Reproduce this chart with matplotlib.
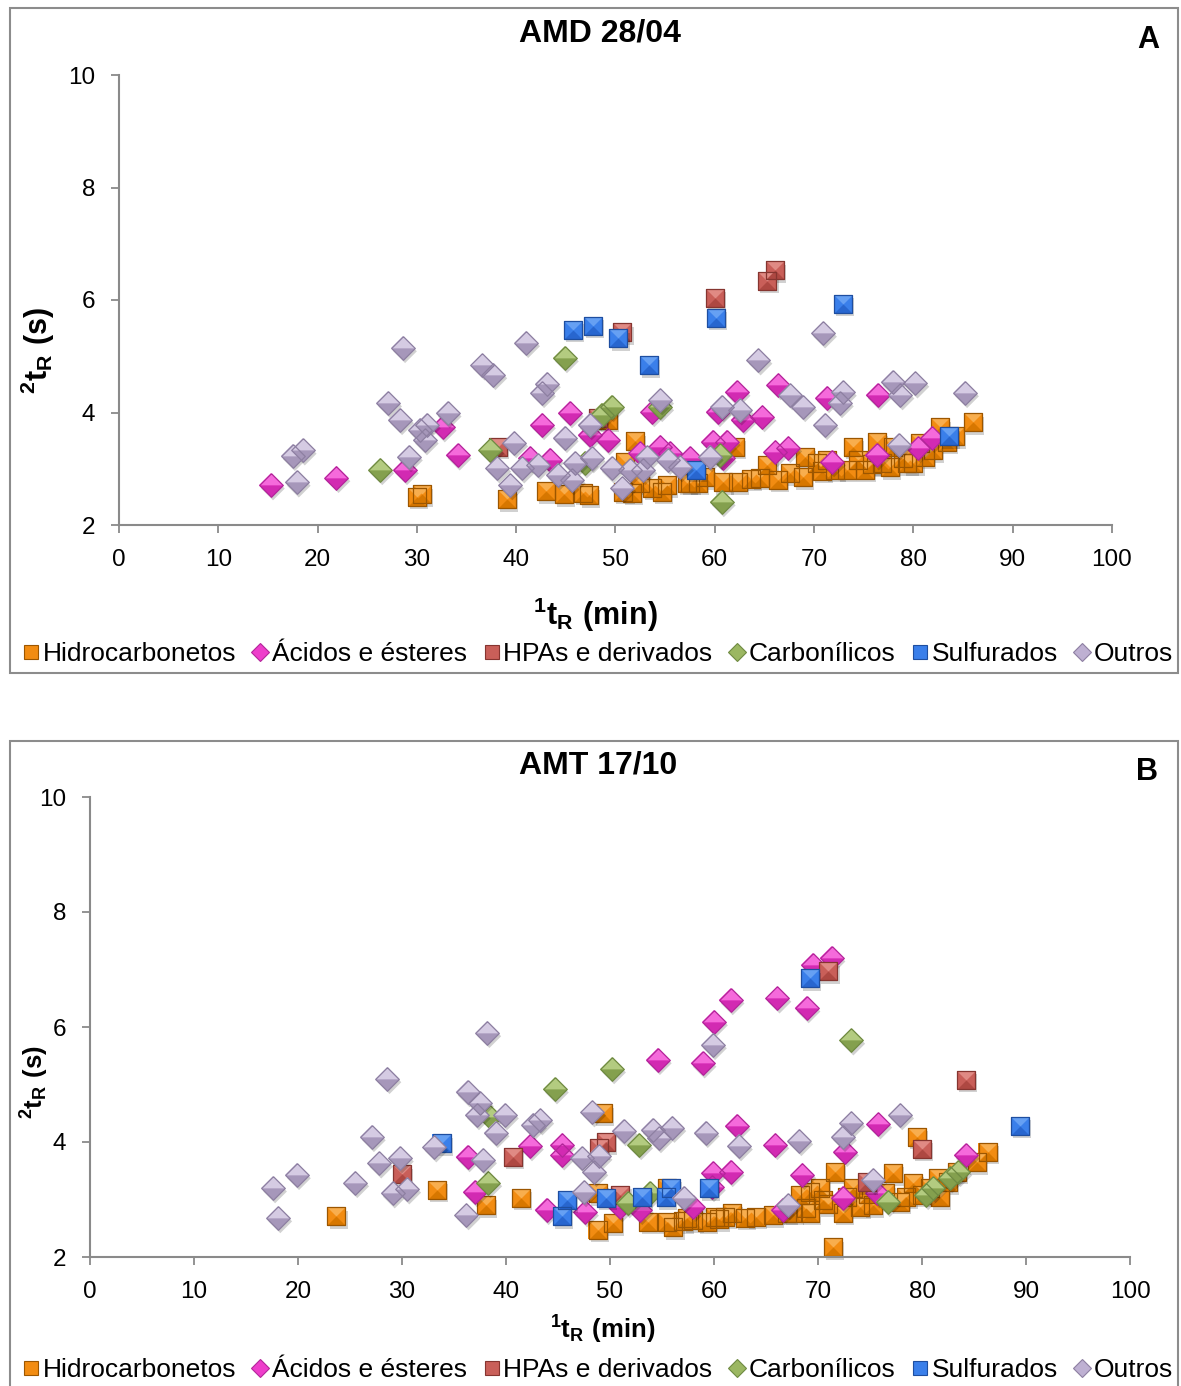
import matplotlib
matplotlib.use("Agg")
import matplotlib.pyplot as plt
import matplotlib.patheffects as pe
from matplotlib.lines import Line2D
from matplotlib.patches import Rectangle

plt.rcParams['font.family'] = ['Liberation Sans', 'DejaVu Sans']
plt.rcParams['mathtext.fontset'] = 'custom'
plt.rcParams['mathtext.rm'] = 'Liberation Sans'
plt.rcParams['mathtext.bf'] = 'Liberation Sans:bold'

W, H = 1181, 1386

# ---------------- dados: painel A (AMD 28/04) ----------------
hidro_a_x = [30.0, 30.5, 39.1, 43.0, 44.8, 46.7, 47.3, 49.2, 50.8, 51.0, 51.7, 52.0, 52.5, 53.7, 54.7,
             55.2, 57.2, 57.5, 58.3, 59.0, 60.8, 62.0, 62.3, 64.6, 65.3, 66.4, 67.6, 68.9, 69.1, 70.3,
             71.3, 72.1, 73.3, 73.9, 74.4, 75.1, 76.3, 76.8, 77.6, 77.9, 79.4, 80.0, 80.7, 81.2, 82.0,
             82.7, 83.4, 86.0, 63.6, 70.8, 75.8, 79.0, 84.2]
hidro_a_y = [2.50, 2.55, 2.46, 2.60, 2.55, 2.57, 2.53, 3.87, 2.59, 3.12, 2.57, 3.49, 2.75, 2.66, 2.59,
             2.71, 2.75, 2.75, 2.75, 2.85, 2.76, 3.39, 2.76, 2.84, 3.07, 2.80, 2.92, 2.85, 3.21, 3.10,
             3.16, 2.98, 2.98, 3.39, 3.16, 2.98, 3.48, 3.10, 3.03, 3.39, 3.10, 3.10, 3.46, 3.21, 3.33,
             3.74, 3.48, 3.83, 2.82, 2.96, 3.08, 3.20, 3.58]

acidos_a_x = [15.3, 21.9, 28.8, 32.6, 34.1, 41.4, 42.6, 43.4, 45.4, 47.4, 49.2, 52.5, 53.7, 54.5, 55.5,
              57.5, 59.8, 60.3, 60.8, 61.2, 62.2, 62.8, 64.8, 66.1, 66.4, 67.4, 71.3, 71.8, 76.3, 76.4,
              80.5, 81.9]
acidos_a_y = [2.71, 2.84, 2.98, 3.74, 3.24, 3.19, 3.78, 3.16, 3.99, 3.60, 3.51, 3.28, 4.01, 3.39, 3.28,
              3.19, 3.48, 4.01, 3.19, 3.48, 4.36, 3.87, 3.92, 3.30, 4.49, 3.37, 4.26, 3.12, 3.24, 4.31,
              3.37, 3.55]

hpas_a_x = [38.2, 48.2, 50.7, 60.0, 65.3, 66.1]
hpas_a_y = [3.39, 3.90, 5.43, 6.04, 6.34, 6.53]

carbon_a_x = [26.3, 37.4, 44.9, 46.9, 48.6, 49.6, 54.5, 60.5, 60.7]
carbon_a_y = [2.98, 3.33, 4.97, 3.10, 3.96, 4.10, 4.10, 3.24, 2.41]

sulf_a_x = [45.7, 47.7, 50.3, 53.4, 58.1, 60.1, 72.9, 83.6]
sulf_a_y = [5.47, 5.54, 5.32, 4.84, 2.98, 5.68, 5.93, 3.58]

outros_a_x = [17.9, 17.5, 18.5, 27.1, 28.3, 28.6, 29.2, 30.3, 31.0, 30.8, 33.1, 36.6, 37.7, 41.0, 42.6,
              43.1, 39.8, 38.1, 39.4, 40.6, 42.2, 44.2, 44.9, 45.9, 45.6, 47.4, 47.6, 49.6, 50.7, 51.5,
              52.8, 53.2, 54.5, 55.3, 56.5, 59.5, 60.7, 62.5, 64.4, 67.6, 68.9, 70.9, 72.9, 72.6, 71.1,
              77.9, 78.7, 80.2, 85.2, 78.5]
outros_a_y = [2.76, 3.23, 3.33, 4.17, 3.87, 5.15, 3.21, 3.69, 3.78, 3.51, 3.99, 4.84, 4.67, 5.24, 4.35,
              4.51, 3.46, 3.01, 2.71, 3.01, 3.07, 2.89, 3.55, 3.10, 2.80, 3.78, 3.19, 3.01, 2.66, 2.98,
              2.98, 3.21, 4.22, 3.16, 3.03, 3.21, 4.10, 4.04, 4.93, 4.31, 4.10, 5.41, 4.36, 4.17, 3.78,
              4.54, 4.31, 4.52, 4.35, 3.42]

# ---------------- dados: painel B (AMT 17/10) ----------------
hidro_b_x = [23.7, 33.4, 38.1, 41.4, 49.3, 48.8, 48.8, 50.3, 53.7, 55.5, 56.1, 55.5, 57.4, 58.0, 59.3,
             60.1, 61.1, 61.7, 63.0, 65.7, 67.0, 67.6, 68.3, 69.2, 69.2, 70.2, 70.5, 71.6, 72.4, 73.4,
             74.0, 75.3, 76.4, 77.2, 77.9, 79.1, 79.5, 80.0, 81.5, 81.7, 83.4, 85.3, 86.3, 71.4,
             64.0, 68.8, 71.0, 72.8, 74.8, 78.5, 80.8, 82.5, 60.5, 57.0]
hidro_b_y = [2.71, 3.17, 2.90, 3.03, 4.50, 3.11, 2.47, 2.59, 2.61, 2.61, 2.52, 3.20, 2.68, 2.64, 2.61,
             2.70, 2.70, 2.77, 2.68, 2.73, 2.77, 2.77, 3.08, 3.13, 2.77, 3.20, 2.99, 3.48, 2.77, 3.20,
             2.87, 2.90, 3.11, 3.46, 2.96, 3.29, 4.09, 3.08, 3.37, 3.04, 3.48, 3.65, 3.83, 2.17,
             2.70, 2.85, 2.92, 3.05, 3.10, 3.05, 3.20, 3.30, 2.66, 2.62]

acidos_b_x = [36.3, 37.0, 42.3, 45.4, 45.4, 43.9, 47.6, 51.0, 52.9, 54.6, 58.9, 60.0, 61.6, 66.1, 68.9,
              69.5, 71.3, 62.2, 65.9, 59.9, 61.6, 59.8, 58.0, 68.5, 72.4, 72.6, 75.8, 75.7, 66.6, 84.2]
acidos_b_y = [3.74, 3.13, 3.93, 3.95, 3.77, 2.82, 2.78, 2.87, 2.82, 5.43, 5.37, 6.09, 6.47, 6.50, 6.33,
              7.08, 7.20, 4.28, 3.95, 3.46, 3.48, 3.22, 2.87, 3.43, 3.03, 3.83, 4.31, 3.11, 2.82, 3.77]

hpas_b_x = [30.0, 40.7, 48.9, 49.6, 51.0, 71.0, 74.7, 80.0, 84.2]
hpas_b_y = [3.44, 3.74, 3.90, 4.00, 3.08, 6.97, 3.30, 3.88, 5.08]

carbon_b_x = [38.3, 38.5, 44.7, 50.2, 51.7, 52.8, 53.8, 73.2, 76.7, 80.4, 81.1, 82.7, 83.5]
carbon_b_y = [3.29, 4.44, 4.92, 5.27, 2.94, 3.95, 3.11, 5.77, 2.96, 3.08, 3.20, 3.37, 3.48]

sulf_b_x = [33.8, 45.4, 45.9, 49.6, 53.1, 55.4, 55.9, 59.5, 69.2, 89.4]
sulf_b_y = [3.98, 2.71, 2.99, 3.03, 3.04, 3.04, 3.20, 3.20, 6.85, 4.28]

outros_b_x = [17.6, 18.1, 19.9, 25.5, 27.1, 27.8, 29.8, 28.6, 29.1, 30.5, 33.1, 38.2, 36.3, 37.5, 37.2,
              39.9, 39.0, 42.6, 43.3, 37.8, 36.2, 48.3, 51.3, 54.1, 54.7, 56.0, 59.2, 47.3, 48.9, 48.5,
              47.5, 57.1, 59.9, 62.4, 68.2, 73.2, 72.4, 77.9, 67.1, 75.3]
outros_b_y = [3.20, 2.68, 3.43, 3.29, 4.09, 3.63, 3.72, 5.10, 3.11, 3.18, 3.91, 5.90, 4.87, 4.68, 4.47,
              4.47, 4.16, 4.30, 4.38, 3.69, 2.73, 4.52, 4.19, 4.21, 4.07, 4.25, 4.16, 3.72, 3.75, 3.48,
              3.13, 3.03, 5.69, 3.93, 4.02, 4.33, 4.09, 4.47, 2.90, 3.34]

nomes = ['Hidrocarbonetos', 'Ácidos e ésteres', 'HPAs e derivados', 'Carbonílicos', 'Sulfurados', 'Outros']

# (forma, cor base, cor de cima, cor de baixo, borda)
estilos = [
    ('sq', '#F28C12', '#F8AE4E', '#D77700', '#9C5600'),
    ('di', '#EE3ECB', '#F56ADB', '#D22AB2', '#B3259A'),
    ('sq', '#C95F59', '#E08A84', '#AE4842', '#863530'),
    ('di', '#9BB762', '#B3CB80', '#84A04E', '#6F8A42'),
    ('sq', '#3A7FEA', '#66A0F3', '#2866CF', '#1E4EA0'),
    ('di', '#BEB0D2', '#D5CBE3', '#A697BA', '#8D7FA1'),
]

SQ = [(-1, -1), (1, -1), (1, 1), (-1, 1), (-1, -1)]
SQ_TOP = [(-1, 1), (1, 1), (0, 0), (-1, 1)]
SQ_BOT = [(-1, -1), (1, -1), (0, 0), (-1, -1)]
DI = [(0, 1), (1, 0), (0, -1), (-1, 0), (0, 1)]
DI_TOP = [(-1, 0), (0, 1), (1, 0), (-1, 0)]
DI_BOT = [(-1, 0), (0, -1), (1, 0), (-1, 0)]
formas = {'sq': (SQ, SQ_TOP, SQ_BOT, 13), 'di': (DI, DI_TOP, DI_BOT, 17)}

sombra = [pe.SimplePatchShadow(offset=(1.5, -2.5), shadow_rgbFace='k', alpha=0.18), pe.Normal()]


def fx(px):
    return px / W


def fy(py):
    return 1 - py / H


def desenha_serie(ax, x, y, est):
    forma, base, cima, baixo, borda = est
    m, mt, mb, ms = formas[forma]
    ax.plot(x, y, ls='none', marker=m, ms=ms, mfc=base, mec='none', path_effects=sombra, clip_on=False)
    ax.plot(x, y, ls='none', marker=mt, ms=ms, mfc=cima, mec='none', clip_on=False)
    ax.plot(x, y, ls='none', marker=mb, ms=ms, mfc=baixo, mec='none', clip_on=False)
    ax.plot(x, y, ls='none', marker=m, ms=ms, mfc='none', mec=borda, mew=0.9, clip_on=False)


def arruma_eixo(ax):
    ax.set_xlim(0, 100)
    ax.set_ylim(2, 10)
    ax.set_xticks(range(0, 101, 10))
    ax.set_yticks(range(2, 11, 2))
    for s in ['top', 'right']:
        ax.spines[s].set_visible(False)
    for s in ['left', 'bottom']:
        ax.spines[s].set_color('#8a8a8a')
        ax.spines[s].set_linewidth(1.5)
    ax.tick_params(direction='out', length=6, width=1.3, color='#8a8a8a',
                   labelsize=17.5, labelcolor='black', pad=11)


def legenda(fig, yc):
    hs = []
    for est in estilos:
        mk = 's' if est[0] == 'sq' else 'D'
        hs.append(Line2D([], [], ls='none', marker=mk, ms=10 if mk == 's' else 9,
                         mfc=est[1], mec=est[4], mew=0.8))
    fig.legend(hs, nomes, loc='center', bbox_to_anchor=(fx(598), fy(yc)), ncol=6, frameon=False,
               fontsize=19, handlelength=0.6, handletextpad=0.15, columnspacing=0.62,
               borderpad=0, borderaxespad=0)


fig = plt.figure(figsize=(W / 100, H / 100), dpi=100)

# molduras
fig.add_artist(Rectangle((fx(10), fy(673)), fx(1178) - fx(10), fy(8) - fy(673),
                         transform=fig.transFigure, fill=False, edgecolor='#8c8c8c', lw=1.5))
fig.add_artist(Rectangle((fx(10), fy(1420)), fx(1178) - fx(10), fy(741) - fy(1420),
                         transform=fig.transFigure, fill=False, edgecolor='#8c8c8c', lw=1.5))

# painel A
axA = fig.add_axes([fx(119), fy(525), (1112 - 119) / W, (525 - 75) / H])
arruma_eixo(axA)
dados_a = [(hidro_a_x, hidro_a_y), (acidos_a_x, acidos_a_y), (hpas_a_x, hpas_a_y),
           (carbon_a_x, carbon_a_y), (sulf_a_x, sulf_a_y), (outros_a_x, outros_a_y)]
for (x, y), est in zip(dados_a, estilos):
    desenha_serie(axA, x, y, est)

fig.text(fx(600), fy(33), 'AMD 28/04', ha='center', va='center', fontsize=23, fontweight='bold')
fig.text(fx(1148), fy(40), 'A', ha='center', va='center', fontsize=22, fontweight='bold')
fig.text(fx(595), fy(615), r'$\mathbf{^{1}t_{R}\ (min)}$', ha='center', va='center', fontsize=22)
fig.text(fx(38), fy(350), r'$\mathbf{^{2}t_{R}\ (s)}$', ha='center', va='center', fontsize=22,
         rotation=90)
legenda(fig, 654)

# painel B
axB = fig.add_axes([fx(90), fy(1257), (1130 - 90) / W, (1257 - 797) / H])
arruma_eixo(axB)
dados_b = [(hidro_b_x, hidro_b_y), (acidos_b_x, acidos_b_y), (hpas_b_x, hpas_b_y),
           (carbon_b_x, carbon_b_y), (sulf_b_x, sulf_b_y), (outros_b_x, outros_b_y)]
for (x, y), est in zip(dados_b, estilos):
    desenha_serie(axB, x, y, est)

fig.text(fx(598), fy(766), 'AMT 17/10', ha='center', va='center', fontsize=23, fontweight='bold')
fig.text(fx(1147), fy(772), 'B', ha='center', va='center', fontsize=22, fontweight='bold')
fig.text(fx(603), fy(1330), r'$\mathbf{^{1}t_{R}\ (min)}$', ha='center', va='center', fontsize=18.5)
fig.text(fx(35), fy(1082), r'$\mathbf{^{2}t_{R}\ (s)}$', ha='center', va='center', fontsize=18.5,
         rotation=90)
legenda(fig, 1370)

fig.savefig('out.png', dpi=100)
